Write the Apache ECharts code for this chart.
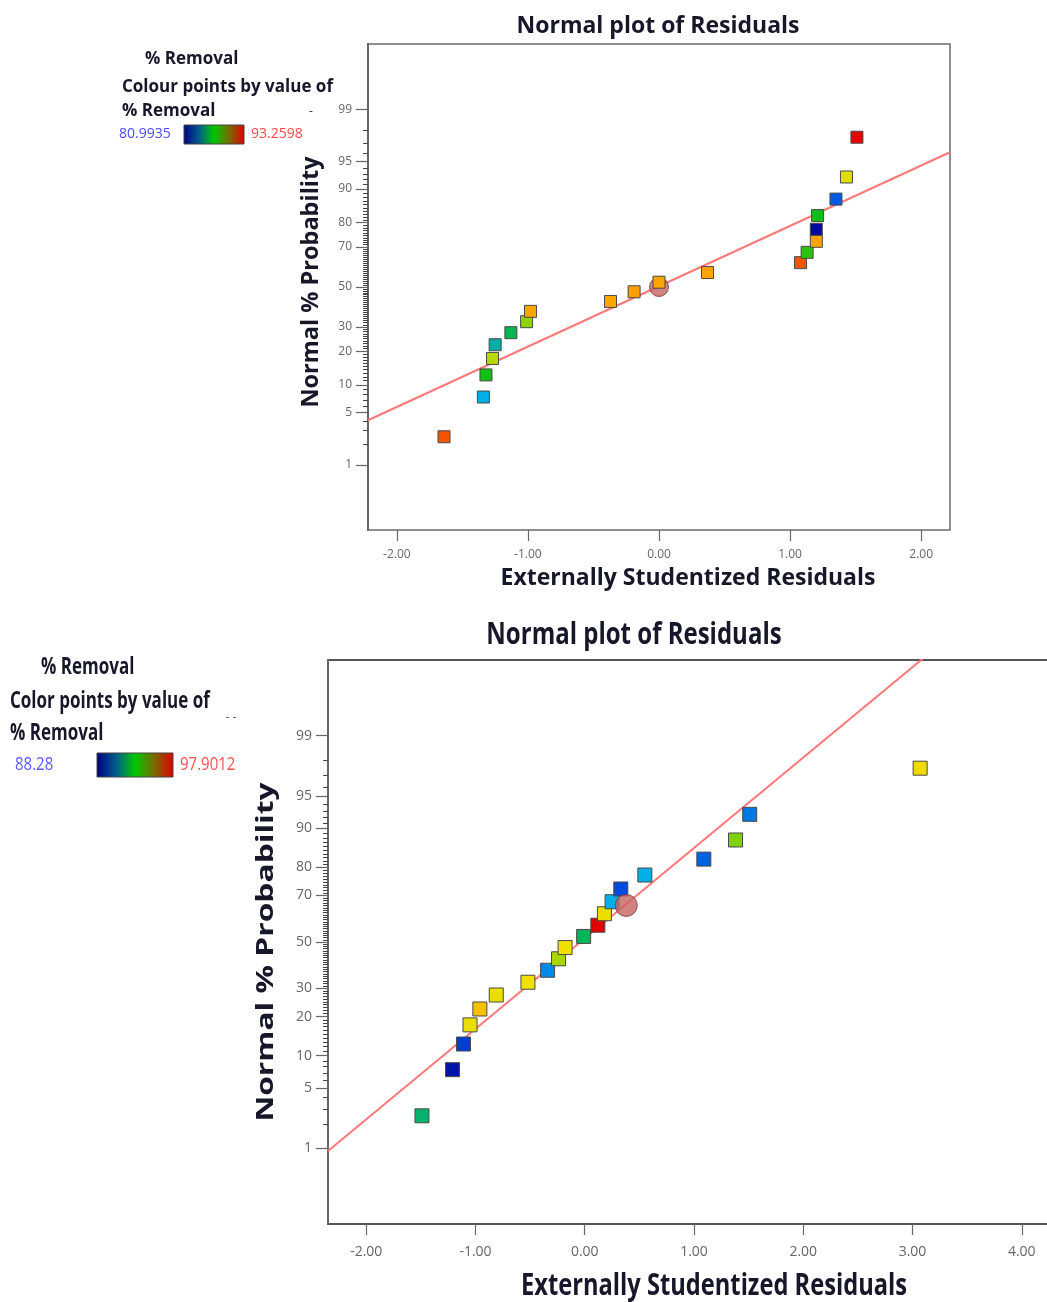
<!DOCTYPE html>
<html>
<head>
<meta charset="utf-8">
<script src="https://cdn.jsdelivr.net/npm/echarts@6/dist/echarts.min.js"></script>
<style>
  html, body { margin: 0; padding: 0; background: #ffffff; }
  #chart { width: 1047px; height: 1302px; }
</style>
</head>
<body>
<div id="chart"></div>
<script>
// ---------- shared axis ticks ----------
const probLabels = [1, 5, 10, 20, 30, 50, 70, 80, 90, 95, 99];
const probMinor = [2, 3, 4, 6, 7, 8, 9, 11, 12, 13, 14, 15, 16, 17, 18, 19, 21, 22, 23, 24, 25, 26, 27, 28, 29,
  31, 32, 33, 34, 35, 36, 37, 38, 39, 40, 41, 42, 43, 44, 45, 46, 47, 48, 49, 51, 52, 53, 54, 55, 56, 57, 58, 59,
  60, 61, 62, 63, 64, 65, 66, 67, 68, 69, 71, 72, 73, 74, 75, 76, 77, 78, 79, 81, 82, 83, 84, 85, 86, 87, 88, 89,
  91, 92, 93, 94, 96, 97, 98];

// ---------- upper plot ----------
const xTicksA = [-2, -1, 0, 1, 2];
const residA = [-1.64, -1.34, -1.32, -1.27, -1.25, -1.13, -1.01, -0.98, -0.37, -0.19,
  0.00, 0.37, 1.08, 1.13, 1.20, 1.20, 1.21, 1.35, 1.43, 1.51];
const probA = [2.5, 7.5, 12.5, 17.5, 22.5, 27.5, 32.5, 37.5, 42.5, 47.5,
  52.5, 57.5, 62.5, 67.5, 72.5, 77.5, 82.5, 87.5, 92.5, 97.5];
const removalA = [92.4, 84.1, 87.1, 89.0, 85.0, 86.2, 88.4, 91.5, 91.4, 91.6,
  91.5, 91.5, 92.4, 87.4, 91.5, 81.2, 87.0, 82.7, 89.8, 93.2];
const removalRangeA = [80.9935, 93.2598];
const fitA = [0.01, 0.79];          // intercept, slope (normal score per residual)
const markA = [0.00, 50];           // residual, normal %

// ---------- lower plot ----------
const xTicksB = [-2, -1, 0, 1, 2, 3, 4];
const residB = [-1.49, -1.21, -1.11, -1.05, -0.96, -0.81, -0.52, -0.34, -0.24, -0.18,
  -0.01, 0.12, 0.18, 0.25, 0.33, 0.55, 1.09, 1.38, 1.51, 3.07];
const probB = [2.5, 7.5, 12.5, 17.5, 22.5, 27.5, 32.5, 37.5, 42.5, 47.5,
  52.5, 57.5, 62.5, 67.5, 72.5, 77.5, 82.5, 87.5, 92.5, 97.5];
const removalB = [92.1, 88.6, 89.2, 95.4, 96.0, 95.4, 95.5, 90.2, 94.3, 95.5,
  92.3, 97.9, 95.4, 90.7, 89.4, 90.7, 89.7, 94.0, 90.0, 95.6];
const removalRangeB = [88.28, 97.9012];
const fitB = [0.04, 1.02];
const markB = [0.38, 66];

// colour scale used for the points
const rainbow = ['#000090', '#0050e0', '#00b0e8', '#00b080', '#10c010', '#a8d800', '#f0e000', '#ff9800', '#e00000'];
const legendRamp = [
  { offset: 0, color: '#000080' }, { offset: 0.25, color: '#005a8c' },
  { offset: 0.5, color: '#00c800' }, { offset: 0.75, color: '#7a6a00' }, { offset: 1, color: '#e00000' }
];

// inverse of the standard normal CDF (Acklam)
function probit(p) {
  const a = [-3.969683028665376e+01, 2.209460984245205e+02, -2.759285104469687e+02, 1.383577518672690e+02, -3.066479806614716e+01, 2.506628277459239e+00];
  const b = [-5.447609879822406e+01, 1.615858368580409e+02, -1.556989798598866e+02, 6.680131188771972e+01, -1.328068155288572e+01];
  const c = [-7.784894002430293e-03, -3.223964580411365e-01, -2.400758277161838e+00, -2.549732539343734e+00, 4.374664141464968e+00, 2.938163982698783e+00];
  const d = [7.784695709041462e-03, 3.224671290700398e-01, 2.445134137142996e+00, 3.754408661907416e+00];
  const pl = 0.02425, ph = 1 - pl;
  let q, r;
  if (p < pl) {
    q = Math.sqrt(-2 * Math.log(p));
    return (((((c[0] * q + c[1]) * q + c[2]) * q + c[3]) * q + c[4]) * q + c[5]) / ((((d[0] * q + d[1]) * q + d[2]) * q + d[3]) * q + 1);
  }
  if (p > ph) {
    q = Math.sqrt(-2 * Math.log(1 - p));
    return -(((((c[0] * q + c[1]) * q + c[2]) * q + c[3]) * q + c[4]) * q + c[5]) / ((((d[0] * q + d[1]) * q + d[2]) * q + d[3]) * q + 1);
  }
  q = p - 0.5; r = q * q;
  return (((((a[0] * r + a[1]) * r + a[2]) * r + a[3]) * r + a[4]) * r + a[5]) * q /
    (((((b[0] * r + b[1]) * r + b[2]) * r + b[3]) * r + b[4]) * r + 1);
}
const z = pct => probit(pct / 100);
const zLabels = probLabels.map(z);
const zMinor = probMinor.map(z);
function probLabel(v) {
  let best = 0;
  zLabels.forEach((zz, i) => { if (Math.abs(zz - v) < Math.abs(zLabels[best] - v)) best = i; });
  return String(probLabels[best]);
}

const Z_MIN = -3.18, Z_MAX = 3.18;
const xRangeA = [-2.22, 2.22];
const xRangeB = [-2.35, 4.35];

const FONT = "'Open Sans', 'DejaVu Sans', sans-serif";
const INK = '#17172a';

function xAxisFor(grid, range, ticks, fs, margin) {
  return {
    gridIndex: grid, type: 'value', min: range[0], max: range[1],
    axisLine: { show: false, onZero: false },
    axisTick: { show: true, customValues: ticks, length: 11, lineStyle: { color: '#666', width: 1.2 } },
    axisLabel: { customValues: ticks, formatter: v => v.toFixed(2), color: '#666', fontSize: fs, fontFamily: FONT, margin: margin },
    splitLine: { show: false }
  };
}
function yAxesFor(grid, fs, lineW) {
  return [{
    gridIndex: grid, type: 'value', position: 'left', min: Z_MIN, max: Z_MAX,
    axisLine: { show: true, onZero: false, lineStyle: { color: '#666', width: lineW } },
    axisTick: { show: true, customValues: zLabels, length: 12, lineStyle: { color: '#666', width: 1.2 } },
    axisLabel: { customValues: zLabels, formatter: probLabel, color: '#666', fontSize: fs, fontFamily: FONT, margin: 16 },
    splitLine: { show: false }
  }, {
    gridIndex: grid, type: 'value', position: 'left', min: Z_MIN, max: Z_MAX,
    axisLine: { show: true, onZero: false, lineStyle: { color: '#666', width: lineW } },
    axisTick: { show: true, customValues: zMinor, length: 5, lineStyle: { color: '#444', width: 1 } },
    axisLabel: { show: true, customValues: zMinor, formatter: () => '', fontSize: 1 },
    splitLine: { show: false }
  }];
}
function fitLine(range, fit) {
  return [range[0], range[1]].map(x => [x, fit[0] + fit[1] * x]);
}
function points(resid, prob, removal) {
  return resid.map((x, i) => [x, z(prob[i]), removal[i]]);
}

function txt(x, y, text, opts) {
  opts = opts || {};
  return {
    type: 'text', x: x, y: y, rotation: opts.rot || 0,
    scaleX: opts.sx || 1, scaleY: opts.sy || 1, z: 10,
    style: {
      text: text, fill: opts.color || INK,
      font: (opts.weight || 'bold') + ' ' + (opts.size || 17) + 'px ' + FONT,
      textAlign: opts.align || 'center', textVerticalAlign: 'middle',
      align: opts.align || 'center', verticalAlign: 'middle'
    }
  };
}
function ramp(x, y, w, h) {
  return {
    type: 'rect', shape: { x: x, y: y, width: w, height: h }, z: 10,
    style: { fill: { type: 'linear', x: 0, y: 0, x2: 1, y2: 0, colorStops: legendRamp }, stroke: '#444', lineWidth: 1 }
  };
}

const chart = echarts.init(document.getElementById('chart'), null, { renderer: 'canvas' });
chart.setOption({
  backgroundColor: '#ffffff',
  animation: false,
  grid: [
    { left: 368, top: 44, width: 582, height: 486, show: true, borderColor: '#6a6a6a', borderWidth: 1.5,
      outerBoundsMode: 'none', containLabel: false },
    { left: 328, top: 660, width: 732, height: 564, show: true, borderColor: '#555', borderWidth: 2,
      outerBoundsMode: 'none', containLabel: false }
  ],
  xAxis: [
    xAxisFor(0, xRangeA, xTicksA, 12, 19),
    xAxisFor(1, xRangeB, xTicksB, 14, 21)
  ],
  yAxis: yAxesFor(0, 12, 2).concat(yAxesFor(1, 14, 2)),
  visualMap: [
    { type: 'continuous', show: false, seriesIndex: 2, dimension: 2, min: removalRangeA[0], max: removalRangeA[1], inRange: { color: rainbow } },
    { type: 'continuous', show: false, seriesIndex: 5, dimension: 2, min: removalRangeB[0], max: removalRangeB[1], inRange: { color: rainbow } }
  ],
  series: [
    { type: 'line', xAxisIndex: 0, yAxisIndex: 0, data: fitLine(xRangeA, fitA), symbol: 'none', clip: true,
      lineStyle: { color: '#ff7878', width: 2 }, z: 2, silent: true },
    { type: 'scatter', xAxisIndex: 0, yAxisIndex: 0, data: [[markA[0], z(markA[1])]], symbol: 'circle', symbolSize: 19,
      itemStyle: { color: '#c46460', borderColor: '#7a3a3a', borderWidth: 1 }, z: 3 },
    { type: 'scatter', xAxisIndex: 0, yAxisIndex: 0, data: points(residA, probA, removalA), symbol: 'rect', symbolSize: 12,
      itemStyle: { borderColor: '#4a4a4a', borderWidth: 1, opacity: 1 }, z: 4 },

    { type: 'line', xAxisIndex: 1, yAxisIndex: 2, data: fitLine(xRangeB, fitB), symbol: 'none', clip: true,
      lineStyle: { color: '#ff7878', width: 2 }, z: 2, silent: true },
    { type: 'scatter', xAxisIndex: 1, yAxisIndex: 2, data: [[markB[0], z(markB[1])]], symbol: 'circle', symbolSize: 22,
      itemStyle: { color: '#c46460', borderColor: '#7a3a3a', borderWidth: 1 }, z: 5 },
    { type: 'scatter', xAxisIndex: 1, yAxisIndex: 2, data: points(residB, probB, removalB), symbol: 'rect', symbolSize: 14,
      itemStyle: { borderColor: '#4a4a4a', borderWidth: 1, opacity: 1 }, z: 4 }
  ],
  graphic: [
    // upper plot texts
    txt(658, 26, 'Normal plot of Residuals', { size: 23 }),
    txt(311, 282, 'Normal % Probability', { size: 23.5, rot: Math.PI / 2 }),
    txt(688, 578, 'Externally Studentized Residuals', { size: 23 }),
    txt(145, 59, '% Removal', { size: 17, align: 'left' }),
    txt(122, 87, 'Colour points by value of', { size: 17, align: 'left' }),
    txt(122, 111, '% Removal', { size: 17, align: 'left' }),
    txt(311, 112, '-', { size: 12, color: '#333', weight: 'normal' }),
    txt(119, 134, '80.9935', { size: 14, align: 'left', color: '#4a4aff', weight: 'normal' }),
    ramp(184, 125, 60, 19),
    txt(251, 134, '93.2598', { size: 14, align: 'left', color: '#ff4848', weight: 'normal' }),

    // lower plot texts
    txt(634, 635, 'Normal plot of Residuals', { size: 24, sy: 1.3 }),
    txt(266, 952, 'Normal % Probability', { size: 23, rot: Math.PI / 2, sx: 1.38 }),
    txt(714, 1286, 'Externally Studentized Residuals', { size: 23.7, sy: 1.3 }),
    txt(41, 667, '% Removal', { size: 17, align: 'left', sy: 1.38 }),
    txt(10, 701, 'Color points by value of', { size: 17, align: 'left', sy: 1.38 }),
    txt(10, 733, '% Removal', { size: 17, align: 'left', sy: 1.38 }),
    txt(231, 718, '- -', { size: 12, color: '#666', weight: 'normal' }),
    txt(15, 765, '88.28', { size: 15, align: 'left', color: '#5a5aff', weight: 'normal', sy: 1.2 }),
    ramp(97, 753, 76, 24),
    txt(180, 765, '97.9012', { size: 15, align: 'left', color: '#ff5050', weight: 'normal', sy: 1.2 })
  ]
});
</script>
</body>
</html>
